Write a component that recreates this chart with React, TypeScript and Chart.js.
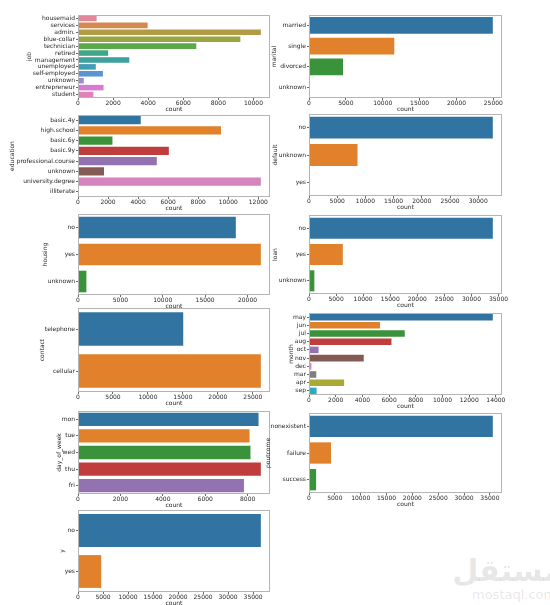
import React, { useEffect, useRef } from "react";
import { Chart, registerables } from "chart.js";
Chart.register(...registerables);

// ---------- data ----------
const jobLabels = ["housemaid", "services", "admin.", "blue-collar", "technician", "retired", "management", "unemployed", "self-employed", "unknown", "entrepreneur", "student"];
const jobValues = [1060, 3969, 10422, 9254, 6743, 1720, 2924, 1014, 1421, 330, 1456, 875];

const maritalLabels = ["married", "single", "divorced", "unknown"];
const maritalValues = [24928, 11568, 4612, 80];

const educationLabels = ["basic.4y", "high.school", "basic.6y", "basic.9y", "professional.course", "unknown", "university.degree", "illiterate"];
const educationValues = [4176, 9515, 2292, 6045, 5243, 1731, 12168, 18];

const defaultLabels = ["no", "unknown", "yes"];
const defaultValues = [32588, 8597, 3];

const housingLabels = ["no", "yes", "unknown"];
const housingValues = [18622, 21576, 990];

const loanLabels = ["no", "yes", "unknown"];
const loanValues = [33950, 6248, 990];

const contactLabels = ["telephone", "cellular"];
const contactValues = [15044, 26144];

const monthLabels = ["may", "jun", "jul", "aug", "oct", "nov", "dec", "mar", "apr", "sep"];
const monthValues = [13769, 5318, 7174, 6178, 718, 4101, 182, 546, 2632, 570];

const dayLabels = ["mon", "tue", "wed", "thu", "fri"];
const dayValues = [8514, 8090, 8134, 8623, 7827];

const poutcomeLabels = ["nonexistent", "failure", "success"];
const poutcomeValues = [35563, 4252, 1373];

const yLabels = ["no", "yes"];
const yValues = [36548, 4640];

// ---------- styles ----------
const TAB = ["#3274a1", "#e1812c", "#3a923a", "#c03d3e", "#9372b2", "#845b53", "#d684bd", "#7f7f7f", "#a9aa35", "#2eabb8"];
const HUSL12 = ["#e2879a", "#d48a4e", "#b39b45", "#9aa545", "#5ba94a", "#3ea785", "#3da19e", "#3f9db4", "#5b93d3", "#9e8bd6", "#d77ad4", "#e281b6"];
const FONT = "'DejaVu Sans', sans-serif";
const TEXT = "#262626";

type Spec = {
  title: string;
  labels: string[];
  values: number[];
  colors: string[];
  step: number;
  l: number; t: number; r: number; b: number; tx: number;
};

const LX = [78, 270];
const RX = [309, 502];

const specs: Spec[] = [
  { title: "job", labels: jobLabels, values: jobValues, colors: HUSL12, step: 2000, l: LX[0], r: LX[1], t: 15, b: 98, tx: 29 },
  { title: "marital", labels: maritalLabels, values: maritalValues, colors: TAB, step: 5000, l: RX[0], r: RX[1], t: 15, b: 98, tx: 274 },
  { title: "education", labels: educationLabels, values: educationValues, colors: TAB, step: 2000, l: LX[0], r: LX[1], t: 115, b: 197, tx: 12 },
  { title: "default", labels: defaultLabels, values: defaultValues, colors: TAB, step: 5000, l: RX[0], r: RX[1], t: 114, b: 196, tx: 275 },
  { title: "housing", labels: housingLabels, values: housingValues, colors: TAB, step: 5000, l: LX[0], r: LX[1], t: 214, b: 295, tx: 45 },
  { title: "loan", labels: loanLabels, values: loanValues, colors: TAB, step: 5000, l: RX[0], r: RX[1], t: 215, b: 294, tx: 275 },
  { title: "contact", labels: contactLabels, values: contactValues, colors: TAB, step: 5000, l: LX[0], r: LX[1], t: 308, b: 392, tx: 42 },
  { title: "month", labels: monthLabels, values: monthValues, colors: TAB, step: 2000, l: RX[0], r: RX[1], t: 313, b: 395, tx: 291 },
  { title: "day_of_week", labels: dayLabels, values: dayValues, colors: TAB, step: 2000, l: LX[0], r: LX[1], t: 411, b: 494, tx: 59 },
  { title: "poutcome", labels: poutcomeLabels, values: poutcomeValues, colors: TAB, step: 5000, l: RX[0], r: RX[1], t: 413, b: 493, tx: 268 },
  { title: "y", labels: yLabels, values: yValues, colors: TAB, step: 5000, l: LX[0], r: LX[1], t: 510, b: 592, tx: 62 },
];

const framePlugin = {
  id: "frame",
  afterDraw(chart: any) {
    const { ctx, chartArea } = chart;
    const { left, top, right, bottom } = chartArea;
    ctx.save();
    ctx.strokeStyle = "#b4b4b4";
    ctx.lineWidth = 1;
    ctx.strokeRect(Math.round(left) + 0.5, Math.round(top) + 0.5, Math.round(right - left) - 1, Math.round(bottom - top) - 1);
    ctx.restore();
  },
};

const PAD_TOP = 5;
const PAD_RIGHT = 20;
const X_AXIS_H = 14;

function Panel({ spec }: { spec: Spec }) {
  const ref = useRef<HTMLCanvasElement>(null);
  const left = spec.tx - 3;
  const top = spec.t - PAD_TOP;
  const width = spec.r + PAD_RIGHT - left;
  const height = spec.b + X_AXIS_H - top;

  useEffect(() => {
    const maxV = Math.max(...spec.values) * 1.05;
    const tickValues: number[] = [];
    for (let v = 0; v <= maxV; v += spec.step) tickValues.push(v);
    const tickFont = { family: FONT, size: 6, lineHeight: 1 };
    const grid = {
      display: true,
      drawOnChartArea: false,
      drawTicks: true,
      tickLength: 2,
      color: "#444",
      lineWidth: 0.8,
    };
    const chart = new Chart(ref.current as HTMLCanvasElement, {
      type: "bar",
      data: {
        labels: spec.labels,
        datasets: [
          {
            data: spec.values,
            backgroundColor: spec.colors.slice(0, spec.values.length),
            categoryPercentage: 0.8,
            barPercentage: 1,
            borderWidth: 0,
          },
        ],
      },
      options: {
        indexAxis: "y",
        responsive: false,
        animation: false,
        devicePixelRatio: 1,
        layout: { padding: { top: PAD_TOP, right: PAD_RIGHT, bottom: 0, left: 0 } },
        plugins: { legend: { display: false }, tooltip: { enabled: false } },
        scales: {
          x: {
            type: "linear",
            min: 0,
            max: maxV,
            afterBuildTicks: (s: any) => {
              s.ticks = tickValues.map((v) => ({ value: v }));
            },
            afterFit: (s: any) => {
              s.height = X_AXIS_H;
            },
            ticks: {
              autoSkip: false,
              maxRotation: 0,
              padding: 0,
              font: tickFont,
              color: TEXT,
              callback: (v: any) => String(v),
            },
            grid: { ...grid },
            border: { display: false },
            title: { display: true, text: "count", font: tickFont, color: TEXT, padding: 0 },
          },
          y: {
            type: "category",
            afterFit: (s: any) => {
              s.width = spec.l - left;
            },
            ticks: { autoSkip: false, padding: 1, font: tickFont, color: TEXT },
            grid: { ...grid, offset: false },
            border: { display: false },
            title: { display: true, text: spec.title, font: tickFont, color: TEXT, padding: 0 },
          },
        },
      },
      plugins: [framePlugin],
    } as any);
    return () => chart.destroy();
  }, []);

  return (
    <canvas
      ref={ref}
      width={width}
      height={height}
      style={{ position: "absolute", left, top, width, height }}
    />
  );
}

export default function App() {
  return (
    <div
      style={{
        position: "absolute",
        left: 0,
        top: 0,
        width: 550,
        height: 605,
        overflow: "hidden",
        background: "#ffffff",
      }}
    >
      <div
        style={{
          position: "absolute",
          left: 472,
          top: 556,
          width: 120,
          fontFamily: FONT,
          color: "rgba(0,0,0,0.11)",
          lineHeight: 1,
        }}
      >
        <div style={{ fontSize: 30, fontWeight: "bold", direction: "rtl", textAlign: "left", width: 90 }}>مستقل</div>
        <div style={{ fontSize: 13, marginTop: 2 }}>mostaql.com</div>
      </div>
      {specs.map((s) => (
        <Panel key={s.title} spec={s} />
      ))}
    </div>
  );
}
